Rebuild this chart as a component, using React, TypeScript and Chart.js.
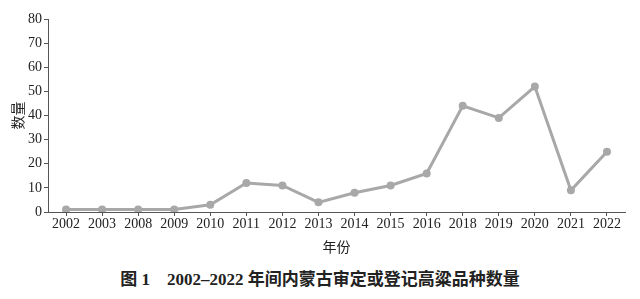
import React, { useEffect, useRef } from "react";
import { Chart, registerables } from "chart.js";

Chart.register(...registerables);

const years = ["2002", "2003", "2008", "2009", "2010", "2011", "2012", "2013", "2014", "2015", "2016", "2018", "2019", "2020", "2021", "2022"];
const counts = [1, 1, 1, 1, 3, 12, 11, 4, 8, 11, 16, 44, 39, 52, 9, 25];
const yTicks = [0, 10, 20, 30, 40, 50, 60, 70, 80];

const serif = "'Liberation Serif', 'Noto Sans CJK SC', serif";
const cjk = "'Noto Sans CJK SC', sans-serif";

export default function App() {
  const ref = useRef<HTMLCanvasElement | null>(null);
  useEffect(() => {
    document.body.style.margin = "0";
    const ctx = ref.current!;
    const chart = new Chart(ctx, {
      type: "line",
      data: {
        labels: years,
        datasets: [
          {
            data: counts,
            borderColor: "#a8a8a8",
            backgroundColor: "#a8a8a8",
            borderWidth: 3,
            pointRadius: 4,
            pointBorderWidth: 0,
            pointBackgroundColor: "#a8a8a8",
            tension: 0,
          },
        ],
      },
      options: {
        animation: false,
        responsive: false,
        maintainAspectRatio: false,
        layout: { padding: { left: 0, right: 15, top: 19, bottom: 0 } },
        plugins: { legend: { display: false }, tooltip: { enabled: false } },
        scales: {
          x: {
            offset: true,
            grid: { offset: false, drawOnChartArea: false, drawTicks: true, tickLength: 4, color: "#555" },
            border: { color: "#555", width: 1 },
            ticks: { color: "#222", font: { family: serif, size: 14 }, padding: 0, maxRotation: 0, autoSkip: false },
            title: { display: true, text: "年份", color: "#222", font: { family: cjk, size: 14 }, padding: { top: 2, bottom: 0 } },
            afterFit: (s: any) => { s.height = 43; },
          },
          y: {
            min: 0,
            max: 80,
            afterBuildTicks: (s: any) => { s.ticks = yTicks.map((v) => ({ value: v })); },
            grid: { drawOnChartArea: false, drawTicks: true, tickLength: 4, color: "#555" },
            border: { color: "#555", width: 1 },
            ticks: { color: "#222", font: { family: serif, size: 14 }, padding: 2 },
            title: { display: true, text: "数量", color: "#222", font: { family: cjk, size: 14 }, padding: { top: 9, bottom: 2 } },
            afterFit: (s: any) => { s.width = 48; },
          },
        },
      },
    });
    return () => chart.destroy();
  }, []);
  return (
    <div style={{ position: "relative", width: 640, height: 299, background: "#fff" }}>
      <canvas ref={ref} width={640} height={255} style={{ display: "block", width: 640, height: 255 }} />
      <div
        style={{
          position: "absolute",
          left: 0,
          width: 640,
          top: 266,
          textAlign: "center",
          fontFamily: "'Liberation Serif', 'Noto Sans CJK SC', serif",
          fontWeight: "bold",
          fontSize: 17,
          lineHeight: "24px",
          color: "#222",
          whiteSpace: "pre",
        }}
      >
        <span style={{ fontFamily: cjk }}>图</span>
        {" 1    2002–2022 "}
        <span style={{ fontFamily: cjk }}>年间内蒙古审定或登记高粱品种数量</span>
      </div>
    </div>
  );
}
